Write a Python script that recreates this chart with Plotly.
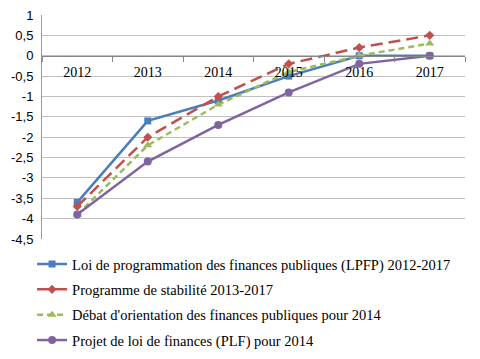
import plotly.graph_objects as go

years = ["2012", "2013", "2014", "2015", "2016", "2017"]
lpfp = [-3.6, -1.6, -1.1, -0.5, 0.0, 0.0]
stabilite = [-3.7, -2.0, -1.0, -0.2, 0.2, 0.5]
dofp = [-3.9, -2.2, -1.2, -0.4, 0.0, 0.3]
plf = [-3.9, -2.6, -1.7, -0.9, -0.2, 0.0]

names = [
    "Loi de programmation des finances publiques (LPFP) 2012-2017",
    "Programme de stabilité 2013-2017",
    "Débat d'orientation des finances publiques pour 2014",
    "Projet de loi de finances (PLF) pour 2014",
]

y_ticks = [1, 0.5, 0, -0.5, -1, -1.5, -2, -2.5, -3, -3.5, -4, -4.5]
y_ticktext = ["1", "0,5", "0", "-0,5", "-1", "-1,5", "-2", "-2,5", "-3", "-3,5", "-4", "-4,5"]

series = [
    (lpfp, "#4A7EBB", "solid", "square", 7),
    (stabilite, "#C0504D", "12px,6px", "diamond", 7),
    (dofp, "#9BBB59", "6px,4px", "triangle-up", 8),
    (plf, "#8064A2", "solid", "circle", 8),
]

fig = go.Figure()
for i, (vals, color, dash, sym, msize) in enumerate(series):
    fig.add_trace(go.Scatter(
        x=years, y=vals, name=names[i], mode="lines+markers",
        legendgroup=str(i),
        line=dict(color=color, width=2.5, dash=dash),
        marker=dict(symbol=sym, size=msize, color=color),
    ))

# page body has an 8px default margin, so the figure is 472x351
fig.update_layout(
    width=472, height=351,
    margin=dict(l=34, r=15, t=7, b=120, autoexpand=False),
    paper_bgcolor="white", plot_bgcolor="white",
    showlegend=True,
    legend=dict(
        xref="container", yref="container", x=0.051, y=0.316,
        xanchor="left", yanchor="top",
        font=dict(family="Liberation Serif", size=14.5, color="#000"),
        tracegroupgap=3.5, bgcolor="rgba(0,0,0,0)",
    ),
    xaxis=dict(
        type="category", range=[-0.5, 5.5],
        anchor="free", position=(0 + 4.5) / 5.5,
        showline=True, linecolor="#868686", linewidth=1,
        ticks="outside", tickson="boundaries", ticklen=5, tickcolor="#868686",
        ticklabelstandoff=3,
        showgrid=False, zeroline=False,
        tickfont=dict(family="Liberation Serif", size=14, color="#000"),
    ),
    yaxis=dict(
        range=[-4.5, 1], tickvals=y_ticks, ticktext=y_ticktext,
        showgrid=True, gridcolor="#BFBFBF", gridwidth=1,
        zeroline=False, showline=True, linecolor="#9A9A9A", linewidth=1,
        ticks="", ticklabelstandoff=5, ticklabeloverflow="allow",
        tickfont=dict(family="Liberation Sans", size=13, color="#000"),
    ),
)

fig.write_html("out.html")
